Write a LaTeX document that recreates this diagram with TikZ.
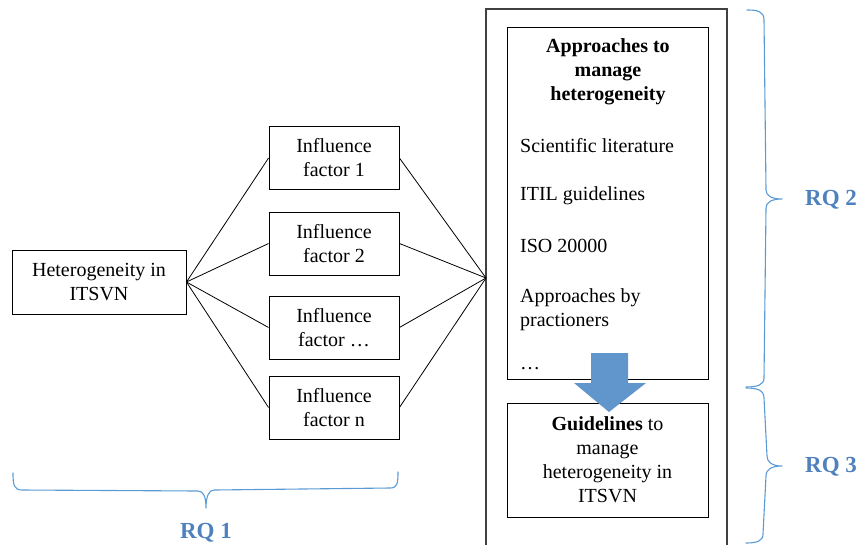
\documentclass[tikz,border=0pt]{standalone}
\usepackage{fontspec}
\setmainfont{Liberation Serif}
\definecolor{braceblue}{HTML}{5B9BD5}
\definecolor{rqblue}{HTML}{4F81BD}
\definecolor{arrowblue}{HTML}{6096CB}
\begin{document}
\begin{tikzpicture}[x=1pt,y=-1pt,
  box/.style={draw=black, line width=0.9pt, inner sep=0pt, align=center,
    font=\fontsize{20}{24}\selectfont},
  factor/.style={box, minimum width=130pt, minimum height=63pt},
  txt/.style={inner sep=0pt, align=left, font=\fontsize{20}{24}\selectfont},
  link/.style={draw=black, line width=0.8pt},
  brace/.style={draw=braceblue, line width=1.1pt, line join=round, line cap=round},
  rq/.style={text=rqblue, inner sep=0pt, font=\fontsize{23}{27}\selectfont\bfseries}]
\useasboundingbox (0,0) rectangle (861,544);
\clip (0,0) rectangle (861,544);

% frame around approaches and guidelines
\node[draw=black!75, line width=1.4pt, minimum width=241pt, minimum height=551pt,
  inner sep=0pt] (outer) at (606.5,284.5) {};
\coordinate (hub) at (486,278);

% source and influence factors
\node[box, minimum width=174pt, minimum height=64pt] (het) at (99,282)
  {Heterogeneity in\\ITSVN};
\node[factor] (f1) at (334,158) {Influence\\factor 1};
\node[factor] (f2) at (334,243.5) {Influence\\factor 2};
\node[factor] (f3) at (334,327.5) {Influence\\factor \dots};
\node[factor] (f4) at (334,407.5) {Influence\\factor n};

\foreach \f in {f1,f2,f3,f4} {
  \draw[link] (het.east) -- (\f.west);
  \draw[link] (\f.east) -- (hub);
}

% approaches box
\node[box, minimum width=201pt, minimum height=352pt] (appr) at (607.5,203) {};
\node[txt, align=center, font=\fontsize{20}{24}\selectfont\bfseries] (title) at (608,72)
  {Approaches to\\manage\\heterogeneity};
\node[txt, anchor=base west] (i1) at (520,152) {Scientific literature};
\node[txt, anchor=base west] (i2) at (520,200) {ITIL guidelines};
\node[txt, anchor=base west] (i3) at (520,252) {ISO 20000};
\node[txt, anchor=north west] (i4) at (520,288.5) {Approaches by\\practioners};
\node[txt, anchor=base west] (i5) at (520,369) {\dots};

% guidelines box
\node[box, minimum width=201pt, minimum height=114pt] (guide) at (607.5,460)
  {\textbf{Guidelines} to\\manage\\heterogeneity in\\ITSVN};

% block arrow from approaches to guidelines
\fill[arrowblue] (591,353) -- (628,353) -- (628,383) -- (646,383) -- (609,412)
  -- (574,383) -- (591,383) -- cycle;

% braces
\draw[brace] (747,10) .. controls (757,10) and (764,11) .. (764,20)
  -- (766,190) .. controls (766,196) and (772,199) .. (782,199)
  .. controls (772,199) and (766,202) .. (766,208)
  -- (764,378) .. controls (764,385) and (757,387) .. (746,387);
\draw[brace] (746,388) .. controls (757,388) and (764,390) .. (764,398)
  -- (767,456) .. controls (767,462) and (772,466) .. (782,466)
  .. controls (772,466) and (766,469) .. (766,476)
  -- (763,534) .. controls (763,541) and (757,543) .. (746,543);
\draw[brace] (13,473) .. controls (13,485) and (14,490) .. (22,490)
  -- (198,491) .. controls (203,491) and (206,496) .. (206,508)
  .. controls (206,496) and (209,490) .. (214,490)
  -- (390,488) .. controls (397,488) and (398,484) .. (398,472);

\node[rq, anchor=west] (rq2) at (805,200) {RQ 2};
\node[rq, anchor=west] (rq3) at (805,467) {RQ 3};
\node[rq] (rq1) at (206,533) {RQ 1};
\end{tikzpicture}
\end{document}
